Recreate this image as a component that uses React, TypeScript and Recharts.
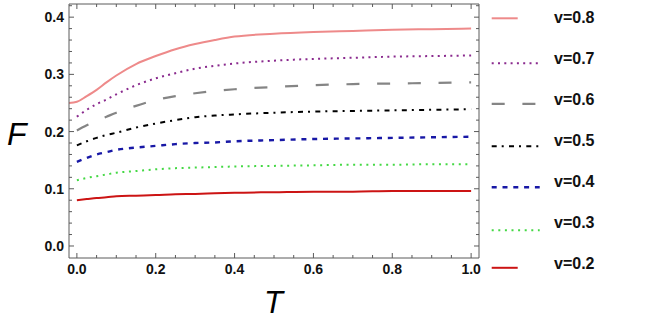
import React from "react";
import { LineChart, Line, XAxis, YAxis } from "recharts";

const T = [-0.02, 0, 0.025, 0.05, 0.075, 0.1, 0.15, 0.2, 0.25, 0.3, 0.35, 0.4, 0.5, 0.6, 0.7, 0.8, 0.9, 1.0];
const v08 = [0.25, 0.252, 0.262, 0.273, 0.286, 0.298, 0.318, 0.332, 0.344, 0.353, 0.36, 0.366, 0.371, 0.374, 0.376, 0.378, 0.379, 0.38];
const v07 = [null, 0.226, 0.238, 0.248, 0.256, 0.265, 0.281, 0.293, 0.302, 0.31, 0.315, 0.319, 0.324, 0.327, 0.329, 0.331, 0.332, 0.333];
const v06 = [null, 0.202, 0.211, 0.219, 0.226, 0.233, 0.245, 0.255, 0.262, 0.267, 0.271, 0.274, 0.278, 0.281, 0.283, 0.284, 0.285, 0.286];
const v05 = [null, 0.176, 0.183, 0.189, 0.194, 0.198, 0.207, 0.214, 0.22, 0.225, 0.228, 0.23, 0.233, 0.235, 0.236, 0.237, 0.238, 0.239];
const v04 = [null, 0.147, 0.154, 0.16, 0.164, 0.168, 0.172, 0.175, 0.178, 0.18, 0.181, 0.183, 0.185, 0.187, 0.188, 0.189, 0.19, 0.191];
const v03 = [null, 0.115, 0.119, 0.122, 0.125, 0.128, 0.131, 0.134, 0.136, 0.137, 0.138, 0.139, 0.14, 0.141, 0.142, 0.142, 0.143, 0.143];
const v02 = [null, 0.08, 0.082, 0.084, 0.085, 0.087, 0.088, 0.089, 0.0905, 0.091, 0.092, 0.093, 0.094, 0.095, 0.095, 0.096, 0.096, 0.096];

const seriesNames = ["v=0.8", "v=0.7", "v=0.6", "v=0.5", "v=0.4", "v=0.3", "v=0.2"];
const seriesValues = [v08, v07, v06, v05, v04, v03, v02];

const xTicks = [0, 0.05, 0.1, 0.15, 0.2, 0.25, 0.3, 0.35, 0.4, 0.45, 0.5, 0.55, 0.6, 0.65, 0.7, 0.75, 0.8, 0.85, 0.9, 0.95, 1.0];
const xMajor = [0, 0.2, 0.4, 0.6, 0.8, 1.0];
const yTicks = [0, 0.02, 0.04, 0.06, 0.08, 0.1, 0.12, 0.14, 0.16, 0.18, 0.2, 0.22, 0.24, 0.26, 0.28, 0.3, 0.32, 0.34, 0.36, 0.38, 0.4, 0.42];
const yMajor = [0, 0.1, 0.2, 0.3, 0.4];

const styles = [
  { stroke: "#ee8a8a", width: 2, dash: undefined, legendLen: 26, legendDy: -5 },
  { stroke: "#8a2a8e", width: 2, dash: "2 4.3", legendLen: 49, legendDy: -1 },
  { stroke: "#858585", width: 2.2, dash: "13 17.7", legendLen: 45, legendDy: -1.5 },
  { stroke: "#000000", width: 2, dash: "5 5 2 5.3", legendLen: 48, legendDy: 0 },
  { stroke: "#1818a6", width: 2.4, dash: "5 5.8", legendLen: 48, legendDy: 0 },
  { stroke: "#44d844", width: 2, dash: "2 4.6", legendLen: 48, legendDy: 2 },
  { stroke: "#cc1414", width: 2, dash: undefined, legendLen: 26, legendDy: -1.5 },
];

const keys = seriesNames.map((_, i) => "s" + i);
const data = T.map((t, r) => {
  const row: any = { T: t };
  seriesValues.forEach((arr, i) => {
    if (arr[r] !== null) row[keys[i]] = arr[r];
  });
  return row;
});

const AXIS = "#5a5a5a";
const FONT = "'Liberation Sans', Arial, sans-serif";
const isMaj = (v: number, majors: number[]) => majors.some((m) => Math.abs(m - v) < 1e-9);

const XTick = (props: any) => {
  const { x, y, payload, top } = props;
  const v = payload.value;
  const major = isMaj(v, xMajor);
  const len = major ? 5 : 3;
  const dir = top ? 1 : -1;
  return (
    <g>
      <line x1={x} x2={x} y1={y} y2={y + dir * len} stroke={AXIS} strokeWidth={1} />
      {!top && major && (
        <text x={x} y={y + 16} textAnchor="middle" fontFamily={FONT} fontWeight="bold" fontSize={14} fill="#111">
          {v.toFixed(1)}
        </text>
      )}
    </g>
  );
};

const YTick = (props: any) => {
  const { x, y, payload, right } = props;
  const v = payload.value;
  const major = isMaj(v, yMajor);
  const len = major ? 5 : 3;
  const dir = right ? -1 : 1;
  return (
    <g>
      <line x1={x} x2={x + dir * len} y1={y} y2={y} stroke={AXIS} strokeWidth={1} />
      {!right && major && (
        <text x={x - 5} y={y + 5} textAnchor="end" fontFamily={FONT} fontWeight="bold" fontSize={14} fill="#111">
          {v.toFixed(1)}
        </text>
      )}
    </g>
  );
};

export default function App() {
  return (
    <div style={{ position: "fixed", left: 0, top: 0, width: 648, height: 319, background: "#fff" }}>
      <LineChart width={648} height={319} data={data} margin={{ top: 3, right: 168, bottom: 60, left: 68 }}>
        <XAxis
          xAxisId="b"
          dataKey="T"
          type="number"
          domain={[-0.02, 1.02]}
          allowDataOverflow
          ticks={xTicks}
          interval={0}
          height={1}
          tickSize={0}
          tickMargin={0}
          tickLine={false}
          axisLine={{ stroke: AXIS }}
          tick={(p: any) => <XTick {...p} top={false} />}
        />
        <XAxis
          xAxisId="t"
          orientation="top"
          dataKey="T"
          type="number"
          domain={[-0.02, 1.02]}
          allowDataOverflow
          ticks={xTicks}
          interval={0}
          height={1}
          tickSize={0}
          tickMargin={0}
          tickLine={false}
          axisLine={{ stroke: AXIS }}
          tick={(p: any) => <XTick {...p} top={true} />}
        />
        <YAxis
          yAxisId="l"
          type="number"
          domain={[-0.021, 0.423]}
          allowDataOverflow
          ticks={yTicks}
          interval={0}
          width={1}
          tickSize={0}
          tickMargin={0}
          tickLine={false}
          axisLine={{ stroke: AXIS }}
          tick={(p: any) => <YTick {...p} right={false} />}
        />
        <YAxis
          yAxisId="r"
          orientation="right"
          type="number"
          domain={[-0.021, 0.423]}
          allowDataOverflow
          ticks={yTicks}
          interval={0}
          width={1}
          tickSize={0}
          tickMargin={0}
          tickLine={false}
          axisLine={{ stroke: AXIS }}
          tick={(p: any) => <YTick {...p} right={true} />}
        />
        {keys.map((k, i) => (
          <Line
            key={k}
            xAxisId="b"
            yAxisId="l"
            dataKey={k}
            name={seriesNames[i]}
            type="monotone"
            stroke={styles[i].stroke}
            strokeWidth={styles[i].width}
            strokeDasharray={styles[i].dash}
            dot={false}
            activeDot={false}
            isAnimationActive={false}
          />
        ))}
      </LineChart>
      <svg width={648} height={319} style={{ position: "absolute", left: 0, top: 0, pointerEvents: "none" }}>
        <text x={7} y={145} fontFamily={FONT} fontStyle="italic" fontSize={32} fill="#000">F</text>
        <text x={264} y={313} fontFamily={FONT} fontStyle="italic" fontSize={31} fill="#000">T</text>
        {seriesNames.map((name, i) => {
          const base = 23.3 + i * 41;
          const s = styles[i];
          return (
            <g key={name}>
              <line
                x1={491.7}
                x2={491.7 + s.legendLen}
                y1={base + s.legendDy}
                y2={base + s.legendDy}
                stroke={s.stroke}
                strokeWidth={s.width}
                strokeDasharray={s.dash}
              />
              <text x={554} y={base} fontFamily={FONT} fontWeight="bold" fontSize={16} fill="#111">
                {name}
              </text>
            </g>
          );
        })}
      </svg>
    </div>
  );
}
